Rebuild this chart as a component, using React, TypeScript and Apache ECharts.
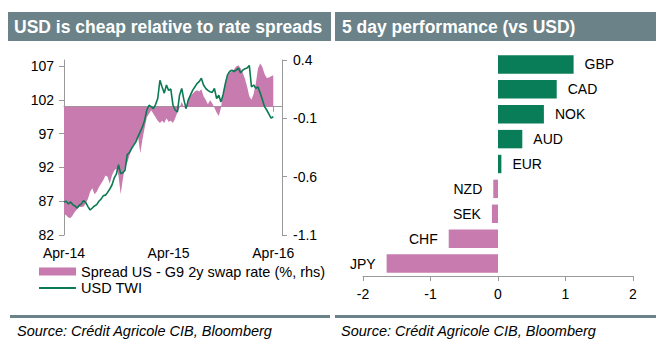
import React, { useEffect, useRef } from 'react';
import * as echarts from 'echarts';

const FONT = '"Liberation Sans", Arial, Helvetica, sans-serif';
const PINK = '#c77bae';
const GREEN_LINE = '#0a7a52';
const GREEN_BAR = '#087d58';
const TITLE_BG = '#6a8288';
const AXIS_GREY = '#9a9a9a';

const titles = ['USD is cheap relative to rate spreads', '5 day performance (vs USD)'];
const sourceText = 'Source: Crédit Agricole CIB, Bloomberg';
const seriesNames = ['Spread US - G9 2y swap rate (%, rhs)', 'USD TWI'];

// left chart: x in months since Apr-14, sampled every quarter month
const sampleStep = 0.25;
const xTickMonths = [0, 12, 24];
const xTickLabels = ['Apr-14', 'Apr-15', 'Apr-16'];
const leftTicks = [82, 87, 92, 97, 102, 107];
const rightTicks = [-1.1, -0.6, -0.1, 0.4];

const twi = [
  86.9, 87.0, 86.6, 86.9,
  86.5, 86.3, 86.0, 86.4,
  86.6, 87.1, 86.8, 86.2,
  85.7, 86.0, 86.3, 86.5,
  87.0, 87.3, 87.8, 87.9,
  88.3, 88.8, 89.4, 90.4,
  91.0, 92.4, 91.1, 91.2,
  91.6, 93.9, 94.2, 94.8,
  95.3, 95.8, 96.6, 97.3,
  98.0, 99.0, 100.5, 101.2,
  101.0, 100.7, 101.3, 102.2,
  104.9, 103.9, 103.0, 104.2,
  103.4, 103.6, 101.2, 100.5,
  100.2, 102.7, 103.7, 102.0,
  100.7, 102.0, 102.7, 103.4,
  103.9, 104.4, 104.7, 105.2,
  104.2, 103.7, 103.4, 103.2,
  103.1, 103.7, 102.2, 102.7,
  101.7, 102.8, 104.4, 105.7,
  106.2, 106.4, 106.2, 106.4,
  106.7, 106.0, 106.4, 106.6,
  106.7, 107.1, 103.9, 104.2,
  103.7, 103.9, 103.0, 102.0,
  101.0, 100.5, 99.9, 99.3,
  99.5,
];

const spread = [
  -0.92, -0.93, -0.95, -0.955,
  -0.93, -0.9, -0.88, -0.86,
  -0.86, -0.855, -0.83, -0.79,
  -0.73, -0.7, -0.75, -0.73,
  -0.69, -0.66, -0.63, -0.59,
  -0.6, -0.66, -0.59, -0.55,
  -0.53, -0.59, -0.75, -0.62,
  -0.51, -0.48, -0.42, -0.36,
  -0.32, -0.29, -0.26, -0.4,
  -0.28, -0.18, -0.09, -0.06,
  -0.03, -0.06, -0.09, -0.12,
  -0.14, -0.12, -0.14, -0.1,
  -0.13, -0.12, -0.14, -0.1,
  -0.05, -0.01, 0.04, 0.0,
  -0.02, 0.07, 0.09, 0.11,
  0.13, 0.14, 0.13, 0.15,
  0.09, 0.06, 0.02, 0.055,
  0.03, -0.01, -0.05, -0.08,
  -0.01, 0.12, 0.21, 0.26,
  0.29, 0.3, 0.32, 0.345,
  0.355, 0.33, 0.29, 0.24,
  0.17, 0.09, 0.06, 0.11,
  0.2, 0.33, 0.37, 0.34,
  0.28, 0.245, 0.25, 0.26,
  0.27,
];

// right chart
const currencies = ['GBP', 'CAD', 'NOK', 'AUD', 'EUR', 'NZD', 'SEK', 'CHF', 'JPY'];
const perf = [1.12, 0.87, 0.68, 0.36, 0.05, -0.07, -0.09, -0.73, -1.65];

export default function App() {
  const ref = useRef<HTMLDivElement>(null);

  useEffect(() => {
    if (!ref.current) return;
    const chart = echarts.init(ref.current, null, { renderer: 'svg' });
    const axisText = { color: '#000', fontSize: 14, fontFamily: FONT };

    chart.setOption({
      animation: false,
      textStyle: { fontFamily: FONT },
      grid: [
        { left: 64, top: 60, width: 218, height: 175, containLabel: false },
        { left: 363, top: 52, width: 270, height: 224, containLabel: false },
      ],
      xAxis: [
        {
          gridIndex: 0,
          type: 'value',
          min: 0,
          max: 25,
          axisLine: { show: true, lineStyle: { color: AXIS_GREY, width: 1 } },
          axisTick: { show: true, customValues: xTickMonths, length: 5, lineStyle: { color: AXIS_GREY } },
          axisLabel: {
            ...axisText,
            customValues: xTickMonths,
            margin: 11,
            formatter: (v: number) => {
              const i = xTickMonths.indexOf(v);
              return i >= 0 ? xTickLabels[i] : '';
            },
          },
          splitLine: { show: false },
        },
        {
          gridIndex: 1,
          type: 'value',
          min: -2,
          max: 2,
          interval: 1,
          axisLine: { show: true, lineStyle: { color: AXIS_GREY, width: 1 } },
          axisTick: { show: true, length: 5, lineStyle: { color: AXIS_GREY } },
          axisLabel: { ...axisText, margin: 11 },
          splitLine: { show: false },
        },
      ],
      yAxis: [
        {
          gridIndex: 0,
          type: 'value',
          min: 82,
          max: 107.9,
          position: 'left',
          axisLine: { show: true, lineStyle: { color: AXIS_GREY, width: 1 } },
          axisTick: { show: true, customValues: leftTicks, length: 5, lineStyle: { color: AXIS_GREY } },
          axisLabel: { ...axisText, customValues: leftTicks, margin: 10 },
          splitLine: { show: false },
        },
        {
          gridIndex: 0,
          type: 'value',
          min: -1.1,
          max: 0.4,
          position: 'right',
          axisLine: { show: true, lineStyle: { color: AXIS_GREY, width: 1 } },
          axisTick: { show: true, customValues: rightTicks, length: 5, lineStyle: { color: AXIS_GREY } },
          axisLabel: { ...axisText, customValues: rightTicks, margin: 11 },
          splitLine: { show: false },
        },
        {
          gridIndex: 1,
          type: 'category',
          data: currencies,
          inverse: true,
          show: false,
        },
      ],
      legend: {
        data: [
          { name: seriesNames[0], icon: 'rect' },
          { name: seriesNames[1], itemStyle: { opacity: 0 } },
        ],
        orient: 'vertical',
        left: 33,
        top: 259,
        itemWidth: 37,
        itemHeight: 8,
        itemGap: 1.5,
        selectedMode: false,
        textStyle: { color: '#000', fontSize: 14.5, fontFamily: FONT },
      },
      series: [
        {
          name: seriesNames[0],
          type: 'line',
          xAxisIndex: 0,
          yAxisIndex: 1,
          data: spread.map((v, i) => [i * sampleStep, v]),
          symbol: 'none',
          showSymbol: false,
          color: PINK,
          itemStyle: { color: PINK },
          lineStyle: { width: 0, color: PINK },
          areaStyle: { color: PINK, opacity: 1 },
          z: 1,
        },
        {
          name: seriesNames[1],
          type: 'line',
          xAxisIndex: 0,
          yAxisIndex: 0,
          data: twi.map((v, i) => [i * sampleStep, v]),
          symbol: 'none',
          showSymbol: false,
          color: GREEN_LINE,
          lineStyle: { width: 1.6, color: GREEN_LINE },
          z: 3,
        },
        {
          name: '5 day performance',
          type: 'bar',
          xAxisIndex: 1,
          yAxisIndex: 2,
          barCategoryGap: '26%',
          data: perf.map((v) => ({
            value: v,
            itemStyle: { color: v >= 0 ? GREEN_BAR : PINK },
            label: { position: v >= 0 ? 'right' : 'left' },
          })),
          label: {
            show: true,
            formatter: (p: any) => p.name,
            color: '#000',
            fontSize: 14,
            fontFamily: FONT,
            distance: 11,
          },
        },
      ],
      graphic: [
        { type: 'rect', shape: { x: 8, y: 12, width: 323, height: 29 }, style: { fill: TITLE_BG } },
        {
          type: 'text',
          x: 14,
          y: 27,
          style: {
            text: titles[0],
            fill: '#fff',
            font: `bold 17.5px ${FONT}`,
            textVerticalAlign: 'middle',
            verticalAlign: 'middle',
          },
        },
        { type: 'rect', shape: { x: 335, y: 12, width: 321, height: 29 }, style: { fill: TITLE_BG } },
        {
          type: 'text',
          x: 342,
          y: 27,
          style: {
            text: titles[1],
            fill: '#fff',
            font: `bold 17.5px ${FONT}`,
            textVerticalAlign: 'middle',
            verticalAlign: 'middle',
          },
        },
        { type: 'rect', shape: { x: 10, y: 315, width: 320, height: 3 }, style: { fill: TITLE_BG } },
        { type: 'rect', shape: { x: 335, y: 315, width: 321, height: 3 }, style: { fill: TITLE_BG } },
        {
          type: 'text',
          x: 17,
          y: 331,
          style: {
            text: sourceText,
            fill: '#000',
            font: `italic 14.5px ${FONT}`,
            textVerticalAlign: 'middle',
            verticalAlign: 'middle',
          },
        },
        {
          type: 'text',
          x: 341,
          y: 331,
          style: {
            text: sourceText,
            fill: '#000',
            font: `italic 14.5px ${FONT}`,
            textVerticalAlign: 'middle',
            verticalAlign: 'middle',
          },
        },
      ],
    });

    return () => chart.dispose();
  }, []);

  return (
    <div
      ref={ref}
      style={{ position: 'absolute', left: 0, top: 0, width: 664, height: 344, background: '#fff' }}
    />
  );
}
